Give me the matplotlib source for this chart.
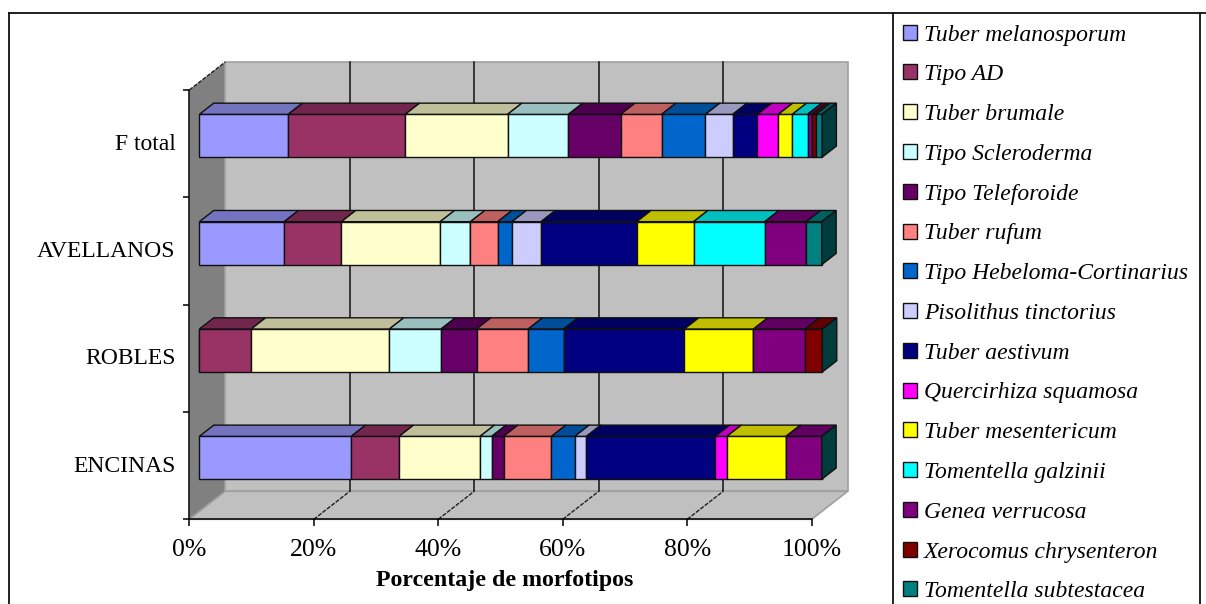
import matplotlib
matplotlib.use('Agg')
import matplotlib.pyplot as plt
from matplotlib.lines import Line2D
from matplotlib.colors import to_rgb
from matplotlib.transforms import ScaledTranslation
import numpy as np

plt.rcParams['font.family'] = 'Liberation Serif'

categories = ['ENCINAS', 'ROBLES', 'AVELLANOS', 'F total']
species = ['Tuber melanosporum', 'Tipo AD', 'Tuber brumale', 'Tipo Scleroderma',
           'Tipo Teleforoide', 'Tuber rufum', 'Tipo Hebeloma-Cortinarius',
           'Pisolithus tinctorius', 'Tuber aestivum', 'Quercirhiza squamosa',
           'Tuber mesentericum', 'Tomentella galzinii', 'Genea verrucosa',
           'Xerocomus chrysenteron', 'Tomentella subtestacea']
colors = ['#9999FF', '#993366', '#FFFFCC', '#CCFFFF', '#660066', '#FF8080', '#0066CC',
          '#CCCCFF', '#000080', '#FF00FF', '#FFFF00', '#00FFFF', '#800080', '#800000',
          '#008080']

# percentages per species, same order as the species list
encinas = [24.4, 7.7, 13.0, 1.87, 1.9, 7.7, 3.75, 1.87, 20.7, 1.87, 9.5, 0, 5.74, 0, 0]
robles = [0, 8.33, 22.2, 8.3, 5.7, 8.3, 5.7, 0, 19.4, 0, 11.1, 0, 8.3, 2.77, 0]
avellanos = [13.62, 9.2, 15.87, 4.86, 0, 4.38, 2.31, 4.65, 15.38, 0, 9.13, 11.43, 6.68, 0, 2.49]
f_total = [14.26, 18.81, 16.44, 9.78, 8.4, 6.57, 7.05, 4.38, 3.96, 3.37, 2.24, 2.45, 0.69, 0.64, 1.0]
xticks = [0, 20, 40, 60, 80, 100]

W, H = 1206, 604
# depth of the fake 3d box, in data units
DX = 5.78
DY = 0.261
Z0 = 0.28
Z1 = 0.68
BAR_H = 0.4


def shade(c, k):
    return tuple(v * k for v in to_rgb(c))


def proj(x, y, z):
    return x + z * DX, y + z * DY


fig = plt.figure(figsize=(W / 100, H / 100), dpi=100)
ax = fig.add_axes([189.3 / W, 1 - 519.3 / H, 622.4 / W, 429.3 / H])
ax.patch.set_visible(False)
ax.set_xlim(0, 100)
ax.set_ylim(0, 4)

# walls and floor
ax.fill([0, DX, DX, 0], [0, DY, 4 + DY, 4], color='#808080', lw=0, clip_on=False, zorder=0)
ax.fill([DX, 100 + DX, 100 + DX, DX], [DY, DY, 4 + DY, 4 + DY], fc='#C0C0C0', ec='#A0A0A0',
        lw=1.2, clip_on=False, zorder=0)
ax.fill([0, 100, 100 + DX, DX], [0, 0, DY, DY], fc='#C0C0C0', ec='#A0A0A0', lw=1.2,
        clip_on=False, zorder=0)
ax.plot([0, DX], [4, 4 + DY], color='#202020', lw=1, ls=(0, (3, 1)), clip_on=False, zorder=1)
for t in xticks[1:-1]:
    ax.plot([t + DX, t + DX], [DY, 4 + DY], color='#101010', lw=1.1, clip_on=False, zorder=1)
    ax.plot([t, t + DX], [0, DY], color='#202020', lw=1, ls=(0, (3, 1)), clip_on=False, zorder=1)

# stacked bars, left to right
rows = [encinas, robles, avellanos, f_total]
y = np.arange(len(categories)) + 0.5
data = np.array(rows)
left = np.zeros(len(rows))
ox, oy = proj(0, 0, Z0)
handles = []
for j, name in enumerate(species):
    vals = data[:, j]
    bars = ax.barh(y + oy, vals, height=BAR_H, left=left + ox, color=colors[j], edgecolor='#101010',
                   linewidth=1.0, clip_on=False, zorder=3, label=name)
    handles.append(bars)
    for i in range(len(rows)):
        if vals[i] > 0:
            top = y[i] + BAR_H / 2
            a = proj(left[i], top, Z0)
            b = proj(left[i] + vals[i], top, Z0)
            c = proj(left[i] + vals[i], top, Z1)
            d = proj(left[i], top, Z1)
            ax.fill([a[0], b[0], c[0], d[0]], [a[1], b[1], c[1], d[1]], fc=shade(colors[j], 0.75),
                    ec='#101010', lw=1.0, clip_on=False, zorder=3)
    left = left + vals

# right end of each bar, always the dark teal of the last series
side = shade(colors[-1], 0.47)
for i in range(len(rows)):
    lo, hi = y[i] - BAR_H / 2, y[i] + BAR_H / 2
    a = proj(left[i], lo, Z0)
    b = proj(left[i], hi, Z0)
    c = proj(left[i], hi, Z1)
    d = proj(left[i], lo, Z1)
    ax.fill([a[0], b[0], c[0], d[0]], [a[1], b[1], c[1], d[1]], fc=side, ec='#101010', lw=1.0,
            clip_on=False, zorder=4)

for s in ['top', 'right']:
    ax.spines[s].set_visible(False)
for s in ['left', 'bottom']:
    ax.spines[s].set_linewidth(1.1)
    ax.spines[s].set_zorder(2)

ax.set_xticks(xticks)
ax.set_xticklabels([str(t) + '%' for t in xticks], fontsize=18.5)
ax.tick_params(axis='x', length=5, width=1.1, pad=9)
ax.set_yticks(range(len(categories) + 1))
ax.set_yticklabels([])
ax.tick_params(axis='y', which='major', length=4.3, width=1.1)
ax.set_yticks(y, minor=True)
ax.set_yticklabels(categories, minor=True, fontsize=17)
ax.tick_params(axis='y', which='minor', length=0, pad=10)
for lab in ax.get_yticklabels(minor=True):
    lab.set_transform(lab.get_transform() + ScaledTranslation(0, 0.02, fig.dpi_scale_trans))

ax.set_xlabel('Porcentaje de morfotipos', fontweight='bold', fontsize=17.2, va='center')
ax.xaxis.set_label_coords(0.506, -0.143)

fig.legend(handles=handles, loc='upper left', bbox_to_anchor=(903 / W, 1 - 24.5 / H),
           frameon=False, prop={'style': 'italic', 'size': 17}, handlelength=0.6, handleheight=0.6,
           handletextpad=0.3, borderpad=0, borderaxespad=0, labelspacing=0.795)

# frame around chart and legend, cut off at the bottom of the picture
for xs, ys in [((9, W), (13, 13)), ((9, 9), (13, H)), ((892.5, 892.5), (13, H)), ((1200, 1200), (13, H))]:
    fig.add_artist(Line2D([v / W for v in xs], [1 - v / H for v in ys], color='#101010', lw=1.3))

fig.savefig('out.png', dpi=100)
